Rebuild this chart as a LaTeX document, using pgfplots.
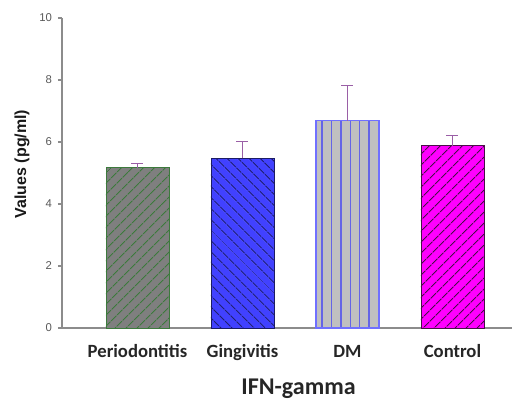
\documentclass[border=0pt]{standalone}
\usepackage{pgfplots}
\pgfplotsset{compat=1.18}
\usetikzlibrary{patterns.meta}
\usepackage{fontspec}
\setmainfont{Carlito}
\newfontfamily\arialfont{Liberation Sans}
\definecolor{axgray}{HTML}{8C8C8C}
\definecolor{errc}{HTML}{9A5FA6}
\definecolor{pgreen}{HTML}{3C7A3C}
\definecolor{pgray}{HTML}{7F7F7F}
\definecolor{gblue}{HTML}{4141FF}
\definecolor{gnavy}{HTML}{1C1C66}
\definecolor{dgray}{HTML}{C0C0C0}
\definecolor{dblue}{HTML}{6464E6}
\definecolor{dborder}{HTML}{7070FF}
\definecolor{cmag}{HTML}{FF00FF}
\definecolor{cdark}{HTML}{4A0E4A}
\begin{document}
\begin{tikzpicture}
\begin{axis}[
  scale only axis,
  width=337.5pt, height=232.5pt,
  xmin=-0.719, xmax=3.567,
  ymin=0, ymax=10,
  axis x line*=bottom, axis y line*=left,
  axis line style={axgray, line width=0.8pt},
  xtick={0,1,2,3},
  xticklabels={Periodontitis,Gingivitis,DM,Control},
  major x tick style={draw=none},
  xticklabel style={font=\bfseries\fontsize{14}{16}\selectfont, text=black!85, anchor=base, yshift=-19pt},
  ytick={0,2,4,6,8,10},
  ytick pos=left,
  tick align=outside,
  major tick length=3pt,
  y tick style={axgray, line width=0.8pt},
  /pgf/number format/assume math mode=true,
  yticklabel style={font=\arialfont\fontsize{8.5}{10}\selectfont, text=black!65, xshift=-1pt},
  xlabel={IFN-gamma},
  xlabel style={at={(axis description cs:0.5256,-0.197)}, anchor=center, font=\bfseries\fontsize{18}{20}\selectfont, text=black!85},
  ylabel={Values (pg/ml)},
  ylabel style={at={(axis description cs:-0.0889,0.529)}, rotate=0, anchor=center, font=\arialfont\bfseries\fontsize{12}{14}\selectfont, text=black!90},
  ybar, bar width=47.25pt, bar shift=0pt,
  clip=false,
  error bars/y dir=plus, error bars/y explicit,
  error bars/error bar style={color=errc, line width=0.8pt},
  error bars/error mark options={rotate=90, mark size=4.5pt, color=errc, line width=0.8pt},
]
\addplot[draw=pgreen, line width=0.7pt, fill=pgray,
  postaction={pattern={Lines[angle=45, distance=6.5pt, line width=0.95pt]}, pattern color=pgreen}]
  coordinates {(0,5.17) +- (0,0.13)};
\addplot[draw=gnavy, line width=0.7pt, fill=gblue,
  postaction={pattern={Lines[angle=-45, distance=6.5pt, line width=0.95pt]}, pattern color=gnavy}]
  coordinates {(1,5.47) +- (0,0.54)};
\addplot[draw=dborder, line width=0.8pt, fill=dgray,
  postaction={pattern={Lines[angle=90, distance=7.1pt, line width=1.1pt]}, pattern color=dblue}]
  coordinates {(2,6.68) +- (0,1.13)};
\addplot[draw=cdark, line width=0.7pt, fill=cmag,
  postaction={pattern={Lines[angle=45, distance=6.5pt, line width=0.95pt]}, pattern color=cdark}]
  coordinates {(3,5.88) +- (0,0.34)};
\end{axis}
\pgfresetboundingbox
\path (current axis.south west) ++(-46.5pt,-53.25pt) rectangle ++(384pt,299.25pt);
\end{tikzpicture}
\end{document}
